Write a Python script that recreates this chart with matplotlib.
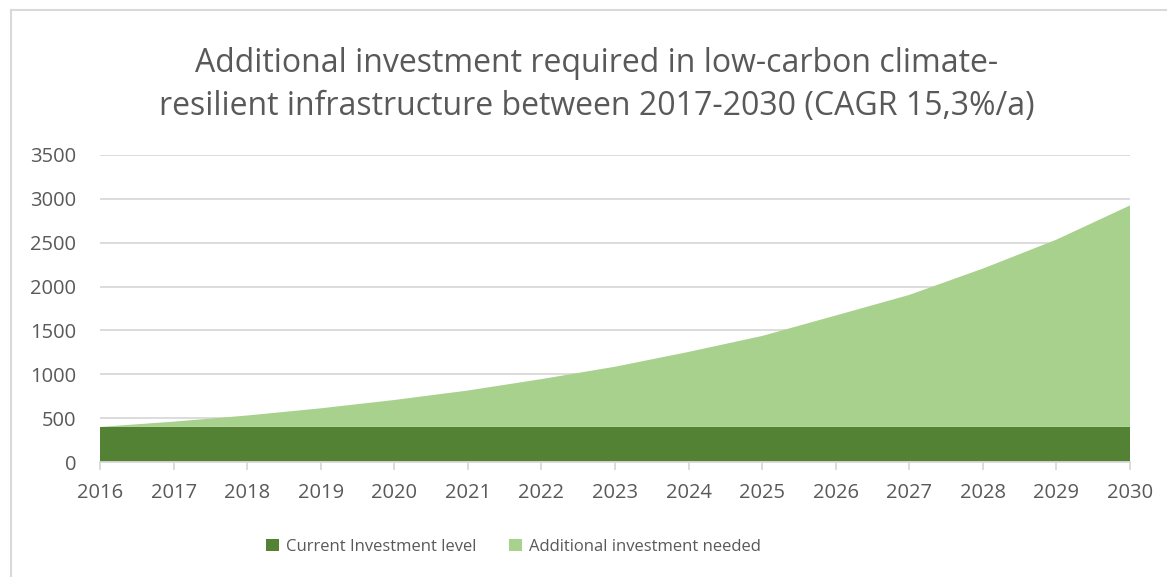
"""Stacked area chart of current vs. additional low-carbon infrastructure investment."""

import matplotlib.pyplot as plt
from matplotlib.lines import Line2D
from matplotlib.patches import Patch

years = [2016, 2017, 2018, 2019, 2020, 2021, 2022, 2023,
         2024, 2025, 2026, 2027, 2028, 2029, 2030]
current_level = [400] * len(years)
additional_needed = [0, 60, 130, 212, 307, 415, 545, 686,
                     855, 1037, 1270, 1505, 1805, 2135, 2525]
y_ticks = [0, 500, 1000, 1500, 2000, 2500, 3000, 3500]

title = ("Additional investment required in low-carbon climate-\n"
         "resilient infrastructure between 2017-2030 (CAGR 15,3%/a)")
series_names = ["Current Investment level", "Additional investment needed"]

DARK_GREEN = "#548235"
LIGHT_GREEN = "#A9D18E"
TEXT_GREY = "#595959"
GRID_GREY = "#D9D9D9"

plt.rcParams["font.family"] = ["Open Sans", "DejaVu Sans"]

fig = plt.figure(figsize=(11.67, 5.77), dpi=100)
ax = fig.add_axes([0.0857, 0.1993, 0.8826, 0.5321])

ax.stackplot(years, current_level, additional_needed,
             colors=[DARK_GREEN, LIGHT_GREEN], linewidth=0)

ax.set_xlim(years[0], years[-1])
ax.set_ylim(0, 3500)
ax.set_yticks(y_ticks)
ax.set_xticks(years)
ax.yaxis.grid(True, color=GRID_GREY, linewidth=1.3)
ax.set_axisbelow(True)

for side in ("top", "right", "left"):
    ax.spines[side].set_visible(False)
ax.spines["bottom"].set_color(GRID_GREY)
ax.spines["bottom"].set_linewidth(1.3)
ax.spines["bottom"].set_zorder(3)

ax.tick_params(axis="y", length=0, pad=17, labelsize=14.5, labelcolor=TEXT_GREY)
ax.tick_params(axis="x", length=6, width=1.3, color=GRID_GREY, pad=9,
               labelsize=14.5, labelcolor=TEXT_GREY)

fig.text(0.511, 0.853, title, ha="center", va="center", fontsize=23,
         color=TEXT_GREY, linespacing=1.42)

handles = [Patch(facecolor=DARK_GREEN), Patch(facecolor=LIGHT_GREEN)]
fig.legend(handles, series_names, loc="center", bbox_to_anchor=(0.44, 0.052),
           ncol=2, frameon=False, fontsize=12, labelcolor=TEXT_GREY,
           handlelength=0.75, handleheight=0.75, handletextpad=0.4,
           columnspacing=2.0)

# light frame along the top and left edges of the chart area
fig.add_artist(Line2D([0.0094, 1.0], [0.9835, 0.9835], color=GRID_GREY, linewidth=1.5))
fig.add_artist(Line2D([0.0094, 0.0094], [0.0, 0.9835], color=GRID_GREY, linewidth=1.5))

fig.savefig("out.png", dpi=100)
